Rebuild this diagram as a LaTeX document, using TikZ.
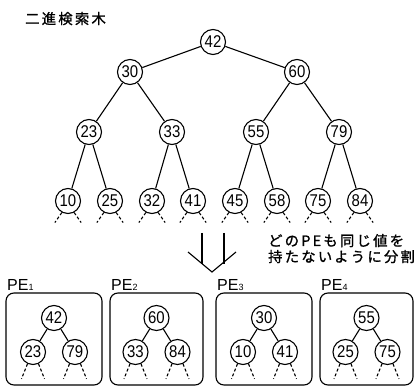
\documentclass[tikz,border=0pt]{standalone}
\usepackage{fontspec}
\setmainfont{Liberation Sans}
\newfontfamily\numfont[FakeStretch=0.88]{Liberation Sans}
\newfontfamily\jfont[LetterSpace=16,FakeBold=1.2]{Noto Sans CJK JP}
\begin{document}
\begin{tikzpicture}[x=1pt,y=-1pt,
  nd/.style={circle,draw,line width=1.1pt,minimum size=25pt,inner sep=0pt,font=\numfont\fontsize{17}{17}\selectfont},
  edge/.style={line width=1.1pt},
  dsh/.style={line width=1.1pt,dash pattern=on 3pt off 2.2pt},
  pebox/.style={draw,line width=1.1pt,rounded corners=8pt},
  pel/.style={anchor=base west,inner sep=0pt,font=\fontsize{16}{16}\selectfont},
  jtext/.style={anchor=base west,inner sep=0pt,font=\jfont\fontsize{14.3}{14.3}\selectfont}]
\useasboundingbox (0,0) rectangle (420,387);
% title
\node[jtext] (title) at (25,24) {二進検索木};
% main tree
\node[nd] (r) at (213,42) {42};
\node[nd] (a30) at (130,72) {30};
\node[nd] (a60) at (297,72) {60};
\node[nd] (b23) at (89,132) {23};
\node[nd] (b33) at (172,132) {33};
\node[nd] (b55) at (256,132) {55};
\node[nd] (b79) at (339,132) {79};
\foreach \v/\x in {10/68,25/110,32/152,41/193,45/235,58/277,75/318,84/360}
  \node[nd] (l\v) at (\x,201) {\v};
\draw[edge] (r) -- (a30); \draw[edge] (r) -- (a60);
\draw[edge] (a30) -- (b23); \draw[edge] (a30) -- (b33);
\draw[edge] (a60) -- (b55); \draw[edge] (a60) -- (b79);
\draw[edge] (b23) -- (l10); \draw[edge] (b23) -- (l25);
\draw[edge] (b33) -- (l32); \draw[edge] (b33) -- (l41);
\draw[edge] (b55) -- (l45); \draw[edge] (b55) -- (l58);
\draw[edge] (b79) -- (l75); \draw[edge] (b79) -- (l84);
\foreach \v in {10,25,32,41,45,58,75,84}{
  \draw[dsh] (l\v.-118) -- ++(-7,10);
  \draw[dsh] (l\v.-62) -- ++(7,10);
}
% arrow
\coordinate (al) at (188,252);
\coordinate (ab) at (212,272);
\coordinate (ar) at (236,252);
\coordinate (v1t) at (202,233);
\coordinate (v2t) at (224,233);
\draw[edge] (al) -- (ab) -- (ar);
\draw[edge] (v1t) -- (202,263.7);
\draw[edge] (v2t) -- (224,263.7);
% note
\node[jtext] (n1) at (268,246) {どのPEも同じ値を};
\node[jtext] (n2) at (268,262) {持たないように分割};
% PE boxes
\foreach \i/\xa/\xb/\rv/\lv/\rvv in {1/6/102/42/23/79, 2/110/203/60/33/84, 3/216/312/30/10/41, 4/320/413/55/25/75}{
  \draw[pebox] (\xa,293) rectangle (\xb,385);
  \node[pel] (pe\i) at (\xa+1,290) {PE{\fontsize{9}{9}\selectfont\i}};
  \pgfmathsetmacro{\cx}{(\xa+\xb)/2}
  \node[nd] (p\i r) at (\cx,318) {\rv};
  \node[nd] (p\i a) at (\cx-21,352) {\lv};
  \node[nd] (p\i b) at (\cx+21,352) {\rvv};
  \draw[edge] (p\i r) -- (p\i a);
  \draw[edge] (p\i r) -- (p\i b);
  \foreach \c in {a,b}{
    \draw[dsh] (p\i\c.-115) -- ++(-6,15);
    \draw[dsh] (p\i\c.-65) -- ++(6,15);
  }
}
\end{tikzpicture}
\end{document}
